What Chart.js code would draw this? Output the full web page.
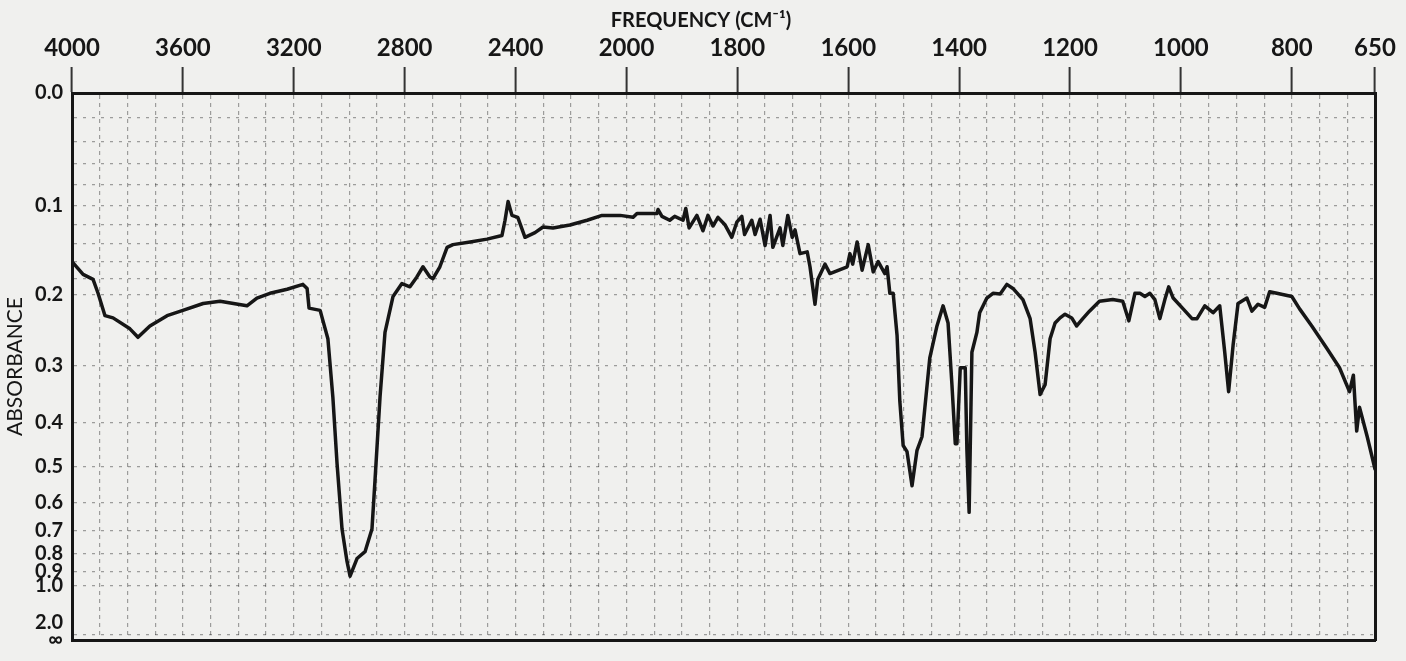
<!DOCTYPE html>
<html>
<head>
    <meta charset="UTF-8">
    <title>IR Spectrum</title>
    <script src="https://cdn.jsdelivr.net/npm/chart.js"></script>
    <style>
        body {
            margin: 0;
            background-color: #f0f0ee;
        }

        #spectrum {
            display: block;
        }
    </style>
</head>
<body>
    <canvas id="spectrum" width="1406" height="661"></canvas>

    <script>
        // Trace: wavenumber (cm-1) and absorbance
        var wavenumbers = [
            4000, 3960, 3924, 3906, 3881, 3852, 3791, 3762, 3719, 3657,
            3600, 3527, 3466, 3369, 3333, 3286, 3224, 3167, 3152, 3145,
            3105, 3077, 3059, 3044, 3026, 3008, 2997, 2972, 2943, 2918,
            2907, 2889, 2871, 2842, 2810, 2781, 2756, 2734, 2709,
            2698, 2673, 2647, 2626, 2564, 2503, 2449, 2438, 2427, 2413,
            2392, 2366, 2330, 2301, 2265, 2204, 2142, 2088, 2023,
            1988, 1981, 1945, 1943, 1936, 1922, 1913, 1898, 1893, 1887,
            1873, 1862, 1853, 1844, 1835, 1822, 1810, 1801, 1792, 1787,
            1774, 1768, 1759, 1750, 1741, 1736, 1723, 1718, 1709, 1701,
            1696, 1687, 1674, 1669, 1660, 1655, 1642, 1633, 1602, 1597,
            1592, 1584, 1575, 1564, 1555, 1546, 1534,
            1530, 1525, 1519, 1512, 1507, 1501, 1494, 1485, 1476, 1467,
            1453, 1440, 1429, 1420, 1413, 1407, 1404, 1398, 1389, 1386,
            1382, 1377, 1368, 1363, 1350, 1339, 1326, 1314, 1303, 1285,
            1272, 1263, 1254, 1245, 1236, 1227, 1218, 1209, 1197, 1188,
            1177, 1165, 1147, 1123, 1105, 1094, 1083, 1074,
            1065, 1056, 1047, 1038, 1029, 1022, 1014, 996, 980, 971,
            957, 942, 930, 921, 914, 906, 897, 881, 872, 861,
            849, 840, 827, 800, 786, 764, 737, 714, 696, 689,
            683, 678, 664, 650
        ];
        var absorbance = [
            0.160, 0.175, 0.181, 0.198, 0.227, 0.230, 0.245, 0.257, 0.241, 0.227,
            0.220, 0.211, 0.208, 0.214, 0.204, 0.198, 0.193, 0.187, 0.192, 0.217,
            0.220, 0.259, 0.353, 0.491, 0.693, 0.843, 0.933, 0.827, 0.792, 0.693,
            0.534, 0.353, 0.250, 0.202, 0.186, 0.190, 0.178, 0.166, 0.178,
            0.180, 0.166, 0.144, 0.141, 0.138, 0.135, 0.131, 0.115, 0.096, 0.110,
            0.112, 0.133, 0.128, 0.122, 0.123, 0.120, 0.115, 0.110, 0.110,
            0.112, 0.108, 0.108, 0.104, 0.111, 0.115, 0.111, 0.115, 0.103, 0.123,
            0.110, 0.126, 0.110, 0.121, 0.112, 0.120, 0.133, 0.117, 0.111, 0.130,
            0.115, 0.130, 0.114, 0.142, 0.110, 0.144, 0.123, 0.142, 0.110, 0.133,
            0.125, 0.151, 0.149, 0.166, 0.212, 0.181, 0.163, 0.174, 0.166, 0.151,
            0.163, 0.138, 0.170, 0.141, 0.172, 0.160, 0.174,
            0.166, 0.198, 0.198, 0.254, 0.360, 0.449, 0.463, 0.550, 0.460, 0.430,
            0.288, 0.241, 0.214, 0.237, 0.331, 0.445, 0.445, 0.303, 0.303, 0.460,
            0.632, 0.279, 0.250, 0.223, 0.204, 0.198, 0.199, 0.187, 0.192, 0.206,
            0.231, 0.279, 0.348, 0.331, 0.259, 0.237, 0.230, 0.225, 0.230, 0.241,
            0.231, 0.221, 0.208, 0.206, 0.208, 0.234, 0.198, 0.198,
            0.202, 0.198, 0.206, 0.231, 0.206, 0.190, 0.204, 0.218, 0.231, 0.231,
            0.214, 0.223, 0.214, 0.279, 0.343, 0.269, 0.211, 0.204, 0.221, 0.212,
            0.216, 0.196, 0.198, 0.202, 0.218, 0.241, 0.273, 0.303, 0.343, 0.315,
            0.418, 0.371, 0.430, 0.505
        ];

        // Axis labels
        var freqLabels = [4000, 3600, 3200, 2800, 2400, 2000, 1800, 1600, 1400, 1200, 1000, 800, 650];
        var absLabelValues = [0, 0.1, 0.2, 0.3, 0.4, 0.5, 0.6, 0.7, 0.8, 0.9, 1.0, 2.0, Infinity];
        var absLabelText = ['0.0', '0.1', '0.2', '0.3', '0.4', '0.5', '0.6', '0.7', '0.8', '0.9', '1.0', '2.0', '\u221E'];
        // faint rulings of the chart paper
        var absGridValues = [0.02, 0.04, 0.06, 0.08, 0.12, 0.14, 0.16, 0.18];

        // paper is linear in transmittance; the wavenumber scale doubles below 2000
        function wnToX(wn) {
            return wn >= 2000 ? (4000 - wn) / 2 : 1000 + (2000 - wn);
        }
        function absToY(a) {
            return 1 - Math.pow(10, -a);
        }

        var points = wavenumbers.map(function (wn, i) {
            return { x: wnToX(wn), y: absToY(absorbance[i]) };
        });

        var xLabelPos = freqLabels.map(wnToX);
        var yLabelPos = absLabelValues.map(absToY);

        function isLabelX(v) {
            return xLabelPos.some(function (p) { return Math.abs(p - v) < 1e-6; });
        }

        var ink = '#161616';
        var gridInk = 'rgba(40, 40, 40, 0.42)';

        var ctx = document.getElementById('spectrum').getContext('2d');
        var chart = new Chart(ctx, {
            type: 'line',
            data: {
                datasets: [{
                    data: points,
                    borderColor: ink,
                    borderWidth: 3.5,
                    pointRadius: 0,
                    fill: false,
                    tension: 0,
                    borderJoinStyle: 'round',
                    borderCapStyle: 'round'
                }]
            },
            options: {
                responsive: false,
                animation: false,
                plugins: {
                    legend: { display: false },
                    tooltip: { enabled: false }
                },
                layout: { padding: 0 },
                scales: {
                    x: {
                        type: 'linear',
                        position: 'top',
                        min: 0,
                        max: wnToX(650),
                        afterBuildTicks: function (scale) {
                            var ticks = [];
                            for (var u = 0; u <= wnToX(650); u += 50) {
                                ticks.push({ value: u });
                            }
                            scale.ticks = ticks;
                        },
                        afterFit: function (scale) {
                            scale.height = 93;
                        },
                        ticks: {
                            autoSkip: false,
                            maxRotation: 0,
                            minRotation: 0,
                            padding: 4,
                            color: ink,
                            font: { family: 'Lato', size: 24, weight: 'bold' },
                            callback: function (value) {
                                var i = xLabelPos.findIndex(function (p) { return Math.abs(p - value) < 1e-6; });
                                return i >= 0 ? String(freqLabels[i]) : '';
                            }
                        },
                        grid: {
                            color: gridInk,
                            lineWidth: 1.2,
                            drawTicks: true,
                            tickLength: 26,
                            tickWidth: 2,
                            tickColor: function (c) {
                                return c.tick && isLabelX(c.tick.value) ? '#333' : 'rgba(0,0,0,0)';
                            }
                        },
                        border: {
                            display: true,
                            color: ink,
                            width: 3,
                            dash: [4, 4]
                        },
                        title: {
                            display: true,
                            // trailing spaces nudge the centred title left, as on the paper
                            text: 'FREQUENCY (CM\u207B\u00B9)\u2003\u2003\u2003',
                            color: ink,
                            font: { family: 'Lato', size: 20, weight: 'bold' },
                            padding: { top: 9, bottom: 0 }
                        }
                    },
                    xb: {
                        type: 'linear',
                        position: 'bottom',
                        min: 0,
                        max: 1,
                        ticks: { display: false },
                        grid: { display: false, drawTicks: false },
                        border: { display: true, color: ink, width: 3 },
                        afterFit: function (scale) {
                            scale.height = 11;
                        }
                    },
                    y: {
                        type: 'linear',
                        position: 'left',
                        reverse: true,
                        min: 0,
                        max: 1,
                        afterBuildTicks: function (scale) {
                            var vals = yLabelPos.concat(absGridValues.map(absToY));
                            vals.sort(function (a, b) { return a - b; });
                            scale.ticks = vals.map(function (v) { return { value: v }; });
                        },
                        afterFit: function (scale) {
                            scale.width = 72;
                        },
                        ticks: {
                            autoSkip: false,
                            padding: 9,
                            color: ink,
                            font: { family: 'Lato', size: 20, weight: 'bold' },
                            callback: function (value) {
                                var i = yLabelPos.findIndex(function (p) { return Math.abs(p - value) < 1e-9; });
                                if (i < 0) return '';
                                // keep 2.0 clear of the infinity mark at the bottom edge
                                if (absLabelText[i] === '2.0') return ['2.0', ''];
                                return absLabelText[i];
                            }
                        },
                        grid: {
                            color: gridInk,
                            lineWidth: 1.2,
                            drawTicks: false
                        },
                        border: {
                            display: true,
                            color: ink,
                            width: 3,
                            dash: [3, 6]
                        },
                        title: {
                            display: true,
                            text: 'ABSORBANCE',
                            color: ink,
                            font: { family: 'Lato', size: 21 },
                            padding: { top: 3, bottom: 0 }
                        }
                    },
                    yr: {
                        type: 'linear',
                        position: 'right',
                        min: 0,
                        max: 1,
                        ticks: { display: false },
                        grid: { display: false, drawTicks: false },
                        border: { display: true, color: ink, width: 3 },
                        afterFit: function (scale) {
                            scale.width = 31;
                        }
                    }
                }
            }
        });
    </script>
</body>
</html>
